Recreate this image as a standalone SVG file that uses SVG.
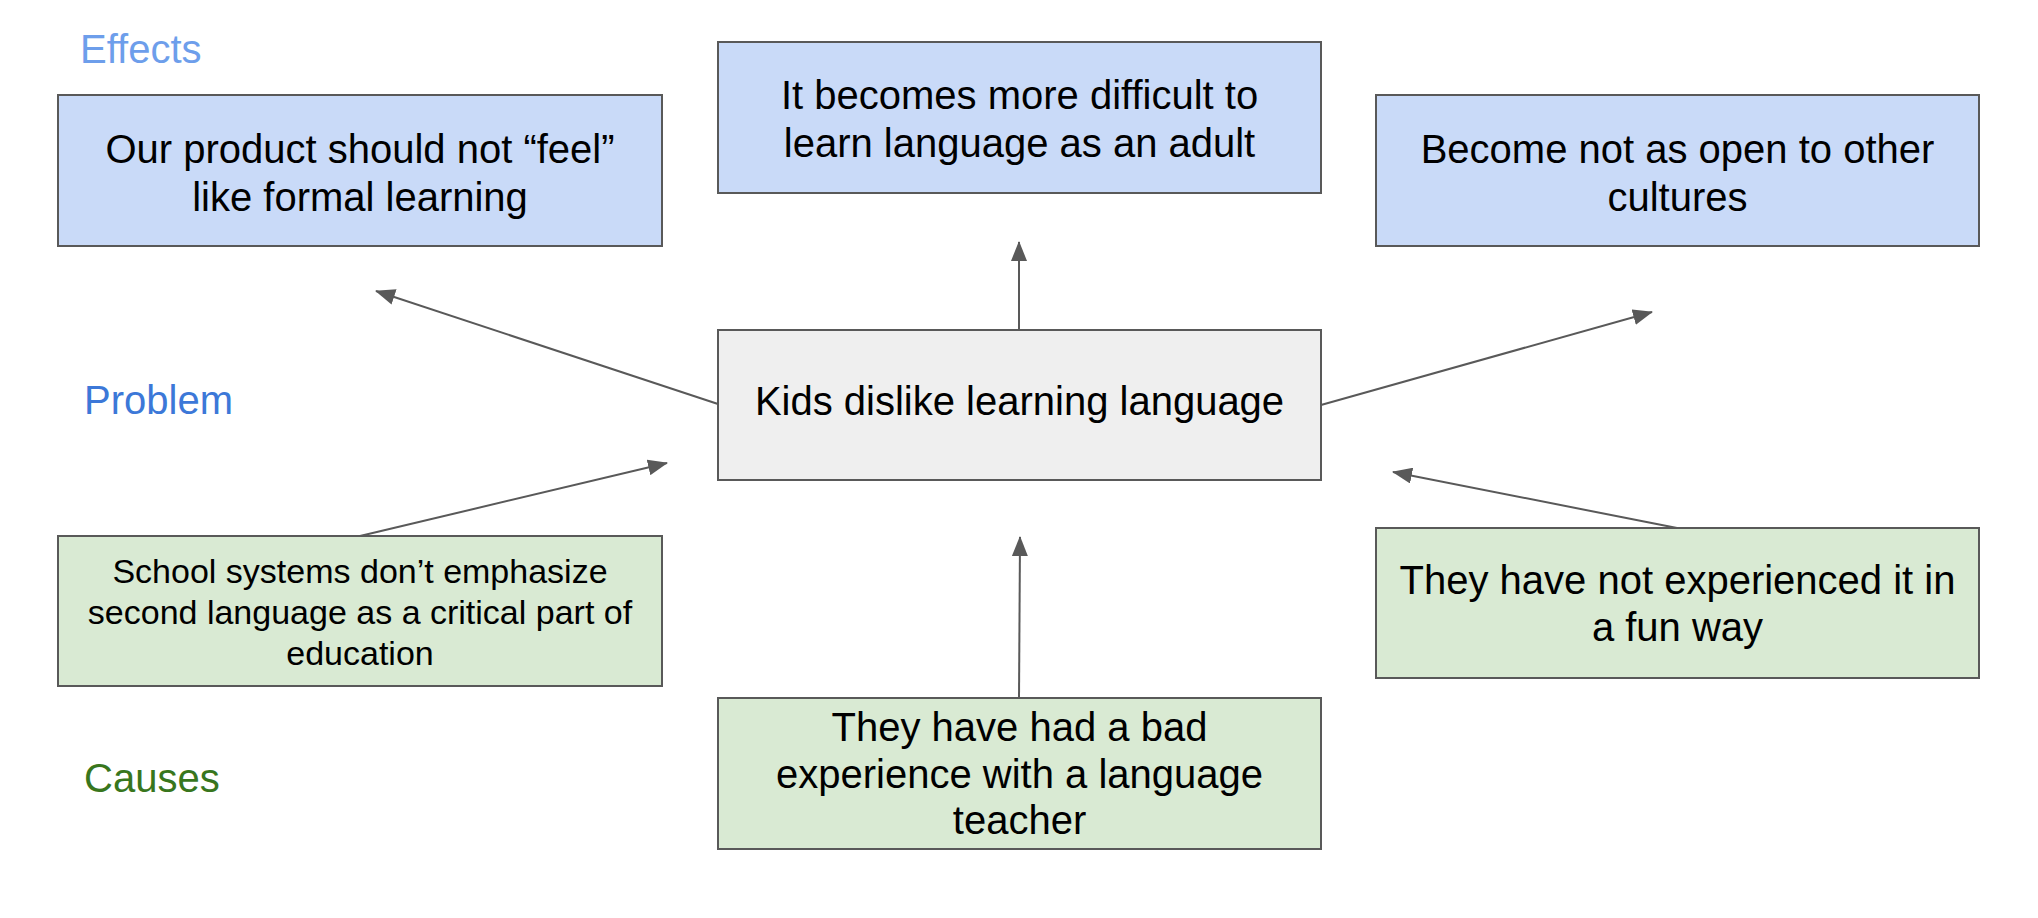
<svg xmlns="http://www.w3.org/2000/svg" width="2038" height="918" viewBox="0 0 2038 918">
<defs>
<style>
.box{stroke:#595959;stroke-width:2}
.eff{fill:#c9daf8}
.prob{fill:#efefef}
.cause{fill:#d9ead3}
.t{font-family:"Liberation Sans",Arial,sans-serif;font-size:40px;fill:#000;text-anchor:middle}
.ts{font-family:"Liberation Sans",Arial,sans-serif;font-size:34px;fill:#000;text-anchor:middle}
.lbl{font-family:"Liberation Sans",Arial,sans-serif;font-size:40px}
.conn line{stroke:#595959;stroke-width:2;fill:none}
</style>
<marker id="arr" viewBox="0 0 20 16" refX="19" refY="8" markerWidth="20" markerHeight="16" markerUnits="userSpaceOnUse" orient="auto">
<path d="M0,0 L20,8 L0,16 Z" fill="#595959"/>
</marker>
</defs>
<rect width="2038" height="918" fill="#fff"/>
<g id="label-effects"><text class="lbl" x="80" y="63" fill="#6d9eeb">Effects</text></g>
<g id="label-problem"><text class="lbl" x="84" y="414" fill="#3c78d8">Problem</text></g>
<g id="label-causes"><text class="lbl" x="84" y="792" fill="#38761d">Causes</text></g>

<g id="effect-product">
<rect class="box eff" x="58" y="95" width="604" height="151"/>
<text class="t" x="360" y="163">Our product should not “feel”</text>
<text class="t" x="360" y="211">like formal learning</text>
</g>
<g id="effect-adult">
<rect class="box eff" x="718" y="42" width="603" height="151"/>
<text class="t" x="1019.5" y="109">It becomes more difficult to</text>
<text class="t" x="1019.5" y="157">learn language as an adult</text>
</g>
<g id="effect-cultures">
<rect class="box eff" x="1376" y="95" width="603" height="151"/>
<text class="t" x="1677.5" y="163">Become not as open to other</text>
<text class="t" x="1677.5" y="211">cultures</text>
</g>
<g id="problem">
<rect class="box prob" x="718" y="330" width="603" height="150"/>
<text class="t" x="1019.5" y="415">Kids dislike learning language</text>
</g>
<g id="cause-school">
<rect class="box cause" x="58" y="536" width="604" height="150"/>
<text class="ts" x="360" y="583">School systems don’t emphasize</text>
<text class="ts" x="360" y="624">second language as a critical part of</text>
<text class="ts" x="360" y="665">education</text>
</g>
<g id="cause-teacher">
<rect class="box cause" x="718" y="698" width="603" height="151"/>
<text class="t" x="1019.5" y="741">They have had a bad</text>
<text class="t" x="1019.5" y="788">experience with a language</text>
<text class="t" x="1019.5" y="834">teacher</text>
</g>
<g id="cause-fun">
<rect class="box cause" x="1376" y="528" width="603" height="150"/>
<text class="t" x="1677.5" y="594">They have not experienced it in</text>
<text class="t" x="1677.5" y="641">a fun way</text>
</g>

<g id="connectors" class="conn">
<line x1="718" y1="404" x2="376" y2="291" marker-end="url(#arr)"/>
<line x1="1019" y1="330" x2="1019" y2="242" marker-end="url(#arr)"/>
<line x1="1321" y1="405" x2="1652" y2="312" marker-end="url(#arr)"/>
<line x1="360" y1="536" x2="667" y2="463" marker-end="url(#arr)"/>
<line x1="1019" y1="698" x2="1020" y2="537" marker-end="url(#arr)"/>
<line x1="1677" y1="528" x2="1393" y2="472" marker-end="url(#arr)"/>
</g>
</svg>
